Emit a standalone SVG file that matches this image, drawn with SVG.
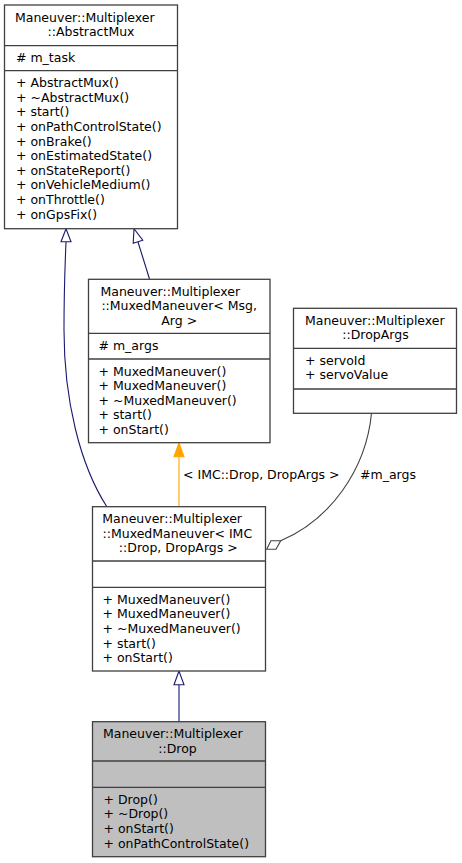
<svg xmlns="http://www.w3.org/2000/svg" width="462" height="863" viewBox="0 0 462 863">
<style>
.box{fill:#ffffff;stroke:#404040;stroke-width:1.3}
.grey{fill:#bfbfbf}
.sep{stroke:#404040;stroke-width:1.3}
text{font-family:"DejaVu Sans",sans-serif;font-size:12.5px;fill:#000}
.c{text-anchor:middle}
.inh{fill:none;stroke:#191970;stroke-width:1.1}
.inhh{fill:#ffffff;stroke:#191970;stroke-width:1.1}
.tmpl{fill:none;stroke:#ffa500;stroke-width:1.1}
.use{fill:none;stroke:#404040;stroke-width:1.1}
</style>
<rect width="462" height="863" fill="#ffffff"/>
<g id="edges">
  <path class="inh" d="M107,507 C80,465 64,400 64,330 C64,290 65,265 66,242"/>
  <polygon class="inhh" points="66,228.7 61,241.7 71,241.7"/>
  <path class="inh" d="M149.5,279 L138,242"/>
  <polygon class="inhh" points="134,228.7 133.2,243.2 142.8,240.2"/>
  <path class="tmpl" d="M179,506.7 L179,456.7"/>
  <polygon points="179,443 174,456.7 184,456.7" fill="#ffa500" stroke="#ffa500" stroke-width="1.1"/>
  <text x="183" y="479">&lt; IMC::Drop, DropArgs &gt;</text>
  <path class="use" d="M371.5,413.3 C366,470 330,520 280.7,540.7"/>
  <polygon points="266.7,549.3 276,549.3 280.7,540.7 270.9,540.7" fill="#ffffff" stroke="#404040" stroke-width="1.1"/>
  <text x="360" y="479">#m_args</text>
  <path class="inh" d="M179,721.7 L179,684.7"/>
  <polygon class="inhh" points="179,671 174,684.7 184,684.7"/>
</g>
<g id="AbstractMux">
  <rect class="box" x="4.5" y="5" width="173" height="223.7"/>
  <line class="sep" x1="4.5" y1="45.7" x2="177.5" y2="45.7"/>
  <line class="sep" x1="4.5" y1="70.7" x2="177.5" y2="70.7"/>
  <text x="15" y="21.5">Maneuver::Multiplexer</text>
  <text class="c" x="91" y="36.1">::AbstractMux</text>
  <text x="16" y="62.2"># m_task</text>
  <text x="16" y="87.2">+ AbstractMux()</text>
  <text x="16" y="101.8">+ ~AbstractMux()</text>
  <text x="16" y="116.4">+ start()</text>
  <text x="16" y="131">+ onPathControlState()</text>
  <text x="16" y="145.6">+ onBrake()</text>
  <text x="16" y="160.2">+ onEstimatedState()</text>
  <text x="16" y="174.8">+ onStateReport()</text>
  <text x="16" y="189.4">+ onVehicleMedium()</text>
  <text x="16" y="204">+ onThrottle()</text>
  <text x="16" y="218.6">+ onGpsFix()</text>
</g>
<g id="MuxedManeuverMsgArg">
  <rect class="box" x="88.5" y="279.3" width="181.5" height="163.4"/>
  <line class="sep" x1="88.5" y1="333.3" x2="270" y2="333.3"/>
  <line class="sep" x1="88.5" y1="359" x2="270" y2="359"/>
  <text x="100.5" y="295.8">Maneuver::Multiplexer</text>
  <text class="c" x="179.2" y="310.4">::MuxedManeuver&lt; Msg,</text>
  <text class="c" x="179.2" y="325">Arg &gt;</text>
  <text x="98.5" y="349.8"># m_args</text>
  <text x="98.5" y="375.5">+ MuxedManeuver()</text>
  <text x="98.5" y="390.1">+ MuxedManeuver()</text>
  <text x="98.5" y="404.7">+ ~MuxedManeuver()</text>
  <text x="98.5" y="419.3">+ start()</text>
  <text x="98.5" y="433.9">+ onStart()</text>
</g>
<g id="DropArgs">
  <rect class="box" x="293.5" y="308.3" width="163" height="105"/>
  <line class="sep" x1="293.5" y1="348.3" x2="456.5" y2="348.3"/>
  <line class="sep" x1="293.5" y1="389" x2="456.5" y2="389"/>
  <text x="305" y="324.8">Maneuver::Multiplexer</text>
  <text class="c" x="375.5" y="339.4">::DropArgs</text>
  <text x="305" y="364.8">+ servoId</text>
  <text x="305" y="379.4">+ servoValue</text>
</g>
<g id="MuxedManeuverDrop">
  <rect class="box" x="92.5" y="506.7" width="173" height="164.3"/>
  <line class="sep" x1="92.5" y1="561" x2="265.5" y2="561"/>
  <line class="sep" x1="92.5" y1="587.3" x2="265.5" y2="587.3"/>
  <text x="102.3" y="523.2">Maneuver::Multiplexer</text>
  <text x="102.5" y="537.8">::MuxedManeuver&lt; IMC</text>
  <text class="c" x="178.3" y="552.4">::Drop, DropArgs &gt;</text>
  <text x="102.5" y="603.8">+ MuxedManeuver()</text>
  <text x="102.5" y="618.4">+ MuxedManeuver()</text>
  <text x="102.5" y="633">+ ~MuxedManeuver()</text>
  <text x="102.5" y="647.6">+ start()</text>
  <text x="102.5" y="662.2">+ onStart()</text>
</g>
<g id="Drop">
  <rect class="box grey" x="92.5" y="721.7" width="173" height="135"/>
  <line class="sep" x1="92.5" y1="761" x2="265.5" y2="761"/>
  <line class="sep" x1="92.5" y1="787.3" x2="265.5" y2="787.3"/>
  <text x="103" y="738.2">Maneuver::Multiplexer</text>
  <text class="c" x="177.5" y="752.8">::Drop</text>
  <text x="103.5" y="803.8">+ Drop()</text>
  <text x="103.5" y="818.4">+ ~Drop()</text>
  <text x="103.5" y="833">+ onStart()</text>
  <text x="103.5" y="847.6">+ onPathControlState()</text>
</g>
</svg>
